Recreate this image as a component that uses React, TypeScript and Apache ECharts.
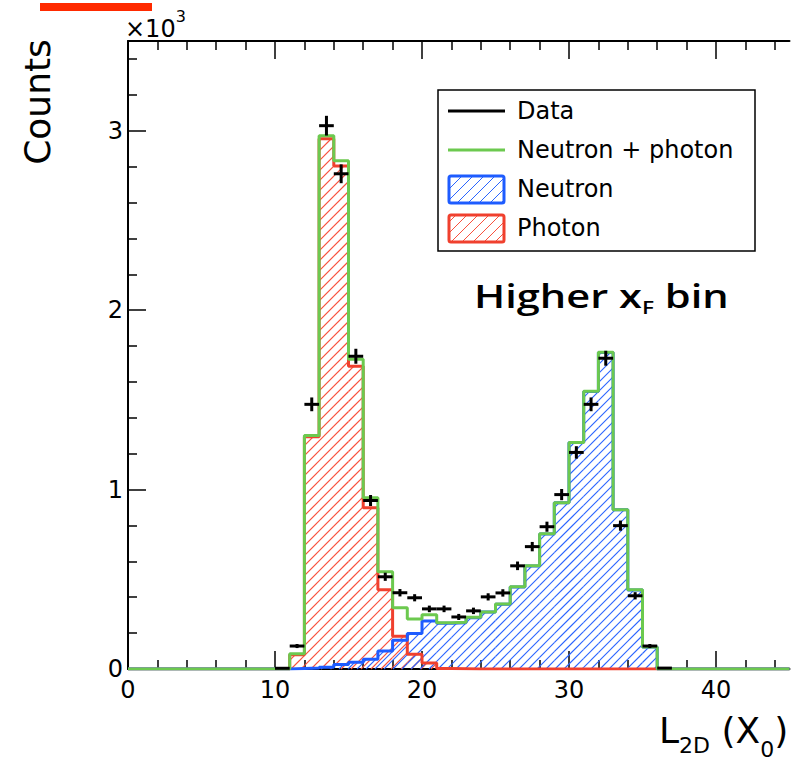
import React, { useEffect, useRef } from "react";
import * as echarts from "echarts";

// L2D shower-length histogram, 1 X0 wide bins from 0 to 45
const BIN_WIDTH = 1;
const X_MIN = 0;
const X_MAX = 45;
const Y_MAX = 3500;

// Measured counts per bin (bin i covers [i, i+1))
const dataCounts = [
  0, 0, 0, 0, 0, 0, 0, 0, 0, 0,
  4, 128, 1475, 3028, 2760, 1743, 939, 514, 425, 397,
  335, 335, 290, 324, 402, 424, 575, 682, 793, 972,
  1207, 1475, 1732, 799, 408, 128, 5, 0, 0, 0,
  0, 0, 0, 0, 0,
];

// Fitted neutron + photon template
const neutronPlusPhoton = [
  0, 0, 0, 0, 0, 0, 0, 0, 0, 0,
  0, 85, 1302, 2972, 2832, 1726, 955, 542, 341, 279,
  302, 258, 260, 288, 318, 362, 458, 575, 754, 927,
  1263, 1548, 1765, 888, 441, 123, 0, 0, 0, 0,
  0, 0, 0, 0, 0,
];

// Neutron template
const neutron = [
  0, 0, 0, 0, 0, 0, 0, 0, 0, 0,
  0, 3, 5, 10, 25, 37, 55, 100, 160, 198,
  268, 255, 258, 286, 317, 361, 457, 574, 753, 926,
  1262, 1547, 1764, 887, 440, 122, 0, 0, 0, 0,
  0, 0, 0, 0, 0,
];

// Photon template
const photon = [
  0, 0, 0, 0, 0, 0, 0, 0, 0, 0,
  0, 80, 1295, 2955, 2804, 1687, 899, 441, 183, 82,
  34, 3, 2, 0, 0, 0, 0, 0, 0, 0,
  0, 0, 0, 0, 0, 0, 0, 0, 0, 0,
  0, 0, 0, 0, 0,
];

const X_MAJOR = [0, 10, 20, 30, 40];
const X_MINOR = [2, 4, 6, 8, 12, 14, 16, 18, 22, 24, 26, 28, 32, 34, 36, 38, 42, 44];
const Y_MAJOR = [0, 1000, 2000, 3000];
const Y_MINOR = [
  200, 400, 600, 800, 1200, 1400, 1600, 1800, 2200, 2400, 2600, 2800, 3200, 3400,
];

const LEGEND_LABELS = ["Data", "Neutron + photon", "Neutron", "Photon"];

const GREEN = "#6cc94f";
const RED = "#f0402e";
const BLUE = "#1e5cff";
const RED_HATCH = "#f8503c";
const BLUE_HATCH = "#2a64ff";

const ROOT_FONT = "DejaVu Sans";

const measureCtx = document.createElement("canvas").getContext("2d") as CanvasRenderingContext2D;
function measure(text: string, size: number, family: string, weight: string | number) {
  measureCtx.font = `${weight} ${size}px "${family}"`;
  return measureCtx.measureText(text).width;
}

type Run = { text: string; size: number; dy?: number; gap?: number };

// Lays out text pieces left to right on a shared baseline (y = 0 is the baseline)
function textRuns(parts: Run[], family: string, weight: string | number, k: number) {
  let x = 0;
  const els: any[] = [];
  for (const p of parts) {
    if (p.gap) x += measure(" ", p.size, family, weight) * p.gap;
    els.push({
      type: "text",
      x,
      y: (p.dy || 0) - k * p.size,
      style: {
        text: p.text,
        fontSize: p.size,
        fontFamily: family,
        fontWeight: weight,
        fill: "#000",
        align: "left",
        verticalAlign: "middle",
      },
    });
    x += measure(p.text, p.size, family, weight);
  }
  return els;
}

// "/" hatch segments (lines x + y = c in pixels) clipped to a rectangle
function hatchSegments(
  x0: number,
  x1: number,
  yTop: number,
  yBot: number,
  spacing: number,
  color: string,
  z: number,
  width = 1
) {
  const out: any[] = [];
  const cMin = x0 + yTop;
  const cMax = x1 + yBot;
  for (let c = Math.ceil(cMin / spacing) * spacing; c <= cMax; c += spacing) {
    const xs = Math.max(x0, c - yBot);
    const xe = Math.min(x1, c - yTop);
    if (xe - xs > 0.3) {
      out.push({
        type: "line",
        z,
        shape: { x1: xs, y1: c - xs, x2: xe, y2: c - xe },
        style: { stroke: color, fill: "none", lineWidth: width },
        silent: true,
      });
    }
  }
  return out;
}

function errorBarRenderer(_params: any, api: any) {
  const i = api.value(0);
  const n = api.value(1);
  if (!(n > 0)) return { type: "group", children: [] };
  const err = Math.sqrt(n); // Poisson uncertainty
  const a = api.coord([i, n]);
  const b = api.coord([i + BIN_WIDTH, n]);
  const hi = api.coord([i + BIN_WIDTH / 2, n + err]);
  const lo = api.coord([i + BIN_WIDTH / 2, Math.max(0, n - err)]);
  const stroke = { stroke: "#000", fill: "none", lineWidth: 3 };
  return {
    type: "group",
    children: [
      { type: "line", shape: { x1: a[0], y1: a[1], x2: b[0], y2: b[1] }, style: stroke },
      { type: "line", shape: { x1: hi[0], y1: hi[1], x2: lo[0], y2: lo[1] }, style: stroke },
    ],
  };
}

const binPoints = (vals: number[]) => vals.map((v, i) => [X_MIN + i * BIN_WIDTH, v]);
const stepPoints = (vals: number[]) => [
  ...binPoints(vals),
  [X_MIN + vals.length * BIN_WIDTH, vals[vals.length - 1]],
];

const GRID = { left: 128, right: 2.5, top: 41, bottom: 92 };

function buildGraphic() {
  const legendBox = { x: 438, y: 90, w: 317, h: 161 };
  const rowY = [111, 150, 189, 228];
  const sampleX0 = 448;
  const sampleX1 = 505;
  const textX = 517;

  const legend: any[] = [
    {
      type: "rect",
      shape: { x: legendBox.x, y: legendBox.y, width: legendBox.w, height: legendBox.h },
      style: { fill: "#fff", stroke: "#000", lineWidth: 1.5 },
      z: 100,
    },
    {
      type: "line",
      shape: { x1: sampleX0, y1: rowY[0], x2: sampleX1, y2: rowY[0] },
      style: { stroke: "#000", lineWidth: 3 },
      z: 101,
    },
    {
      type: "line",
      shape: { x1: sampleX0, y1: rowY[1], x2: sampleX1, y2: rowY[1] },
      style: { stroke: GREEN, lineWidth: 3 },
      z: 101,
    },
  ];
  const boxes = [
    { row: 2, color: BLUE, hatch: BLUE_HATCH },
    { row: 3, color: RED, hatch: RED_HATCH },
  ];
  for (const b of boxes) {
    const y0 = rowY[b.row] - 13;
    const y1 = rowY[b.row] + 14;
    legend.push(...hatchSegments(sampleX0 + 1, sampleX1 - 1, y0 + 1, y1 - 1, 11, b.hatch, 101));
    legend.push({
      type: "rect",
      shape: { x: sampleX0 + 1, y: y0, width: sampleX1 - sampleX0 - 2, height: y1 - y0, r: 2 },
      style: { fill: "none", stroke: b.color, lineWidth: 3 },
      z: 102,
    });
  }
  LEGEND_LABELS.forEach((label, idx) => {
    legend.push({
      type: "text",
      x: textX,
      y: rowY[idx],
      z: 102,
      style: {
        text: label,
        fontSize: 24,
        fontFamily: ROOT_FONT,
        fill: "#000",
        align: "left",
        verticalAlign: "middle",
      },
    });
  });

  return [
    // red marker bar at the top left
    { type: "rect", shape: { x: 40, y: 3, width: 112, height: 8 }, style: { fill: "#ff2a00" } },
    // y-axis exponent
    {
      type: "group",
      x: 125,
      y: 37,
      children: textRuns(
        [
          { text: "×10", size: 24 },
          { text: "3", size: 16, dy: -15 },
        ],
        ROOT_FONT,
        "normal",
        0.346
      ),
    },
    // y-axis title
    {
      type: "text",
      x: 37,
      y: 102,
      rotation: Math.PI / 2,
      style: {
        text: "Counts",
        fontSize: 36,
        fontFamily: ROOT_FONT,
        fill: "#000",
        align: "center",
        verticalAlign: "middle",
      },
    },
    // x-axis title
    {
      type: "group",
      x: 659,
      y: 743,
      children: textRuns(
        [
          { text: "L", size: 36 },
          { text: "2D", size: 22, dy: 10 },
          { text: "(X", size: 36, gap: 1 },
          { text: "0", size: 22, dy: 14 },
          { text: ")", size: 36 },
        ],
        ROOT_FONT,
        "normal",
        0.346
      ),
    },
    // kinematic bin annotation
    {
      type: "group",
      x: 474,
      y: 308,
      scaleX: 1.26,
      children: textRuns(
        [
          { text: "Higher x", size: 33 },
          { text: "F", size: 18, dy: 6 },
          { text: "bin", size: 33, gap: 1 },
        ],
        "Open Sans",
        600,
        0.388
      ),
    },
    ...legend,
  ];
}

function buildOption() {
  const axisLine = { show: true, onZero: false, lineStyle: { color: "#000", width: 2 } };
  const tickStyle = { color: "#000", width: 1.5 };
  const labelStyle = { color: "#000", fontSize: 24, fontFamily: ROOT_FONT };

  return {
    animation: false,
    backgroundColor: "#ffffff",
    grid: [
      { ...GRID, containLabel: false },
      { ...GRID, containLabel: false },
    ],
    xAxis: [
      {
        gridIndex: 0,
        type: "value",
        position: "bottom",
        min: X_MIN,
        max: X_MAX,
        axisLine,
        axisTick: { show: true, inside: true, length: 18, lineStyle: tickStyle, customValues: X_MAJOR },
        axisLabel: { show: true, margin: 9, customValues: X_MAJOR, ...labelStyle },
        splitLine: { show: false },
      },
      {
        gridIndex: 0,
        type: "value",
        position: "top",
        min: X_MIN,
        max: X_MAX,
        axisLine,
        axisTick: { show: true, inside: true, length: 18, lineStyle: tickStyle, customValues: X_MAJOR },
        axisLabel: { show: false },
        splitLine: { show: false },
      },
      {
        gridIndex: 1,
        type: "value",
        position: "bottom",
        min: X_MIN,
        max: X_MAX,
        axisLine: { show: false, onZero: false },
        axisTick: { show: true, inside: true, length: 9, lineStyle: tickStyle, customValues: X_MINOR },
        axisLabel: { show: false },
        splitLine: { show: false },
      },
      {
        gridIndex: 1,
        type: "value",
        position: "top",
        min: X_MIN,
        max: X_MAX,
        axisLine: { show: false, onZero: false },
        axisTick: { show: true, inside: true, length: 9, lineStyle: tickStyle, customValues: X_MINOR },
        axisLabel: { show: false },
        splitLine: { show: false },
      },
    ],
    yAxis: [
      {
        gridIndex: 0,
        type: "value",
        position: "left",
        min: 0,
        max: Y_MAX,
        axisLine,
        axisTick: { show: true, inside: true, length: 18, lineStyle: tickStyle, customValues: Y_MAJOR },
        axisLabel: {
          show: true,
          margin: 5,
          customValues: Y_MAJOR,
          formatter: (v: number) => String(v / 1000),
          ...labelStyle,
        },
        splitLine: { show: false },
      },
      {
        gridIndex: 1,
        type: "value",
        position: "left",
        min: 0,
        max: Y_MAX,
        axisLine: { show: false, onZero: false },
        axisTick: { show: true, inside: true, length: 9, lineStyle: tickStyle, customValues: Y_MINOR },
        axisLabel: { show: false },
        splitLine: { show: false },
      },
    ],
    series: [
      {
        name: "Photon",
        type: "line",
        step: "end",
        xAxisIndex: 0,
        yAxisIndex: 0,
        data: stepPoints(photon),
        symbol: "none",
        lineStyle: { color: RED, width: 3 },
        z: 2,
      },
      {
        name: "Neutron",
        type: "line",
        step: "end",
        xAxisIndex: 0,
        yAxisIndex: 0,
        data: stepPoints(neutron),
        symbol: "none",
        lineStyle: { color: BLUE, width: 3 },
        z: 3,
      },
      {
        name: "Neutron + photon",
        type: "line",
        step: "end",
        xAxisIndex: 0,
        yAxisIndex: 0,
        data: stepPoints(neutronPlusPhoton),
        symbol: "none",
        lineStyle: { color: GREEN, width: 3 },
        z: 4,
      },
      {
        name: "Data",
        type: "custom",
        xAxisIndex: 0,
        yAxisIndex: 0,
        data: binPoints(dataCounts),
        renderItem: errorBarRenderer,
        z: 5,
      },
    ],
    graphic: buildGraphic(),
  };
}

// Hatched fill under a histogram, placed through the chart's own axis scales
function histogramHatch(
  chart: echarts.ECharts,
  vals: number[],
  spacing: number,
  color: string,
  width: number
) {
  const out: any[] = [];
  vals.forEach((v, i) => {
    if (!(v > 0)) return;
    const x = X_MIN + i * BIN_WIDTH;
    const p0 = chart.convertToPixel({ xAxisIndex: 0, yAxisIndex: 0 }, [x, 0]) as number[];
    const p1 = chart.convertToPixel({ xAxisIndex: 0, yAxisIndex: 0 }, [x + BIN_WIDTH, v]) as number[];
    out.push(...hatchSegments(p0[0], p1[0], p1[1], p0[1], spacing, color, 1, width));
  });
  return out;
}

export default function App() {
  const ref = useRef<HTMLDivElement>(null);
  useEffect(() => {
    if (!ref.current) return;
    const chart = echarts.init(ref.current, null, { renderer: "svg" });
    chart.setOption(buildOption() as any);
    const hatches = [
      ...histogramHatch(chart, photon, 10, RED_HATCH, 1.2),
      ...histogramHatch(chart, neutron, 9, BLUE_HATCH, 1.1),
    ];
    chart.setOption({ graphic: [...buildGraphic(), ...hatches] } as any);
    return () => chart.dispose();
  }, []);
  return (
    <div
      ref={ref}
      style={{ position: "absolute", left: 0, top: 0, width: 792, height: 761, background: "#fff" }}
    />
  );
}
